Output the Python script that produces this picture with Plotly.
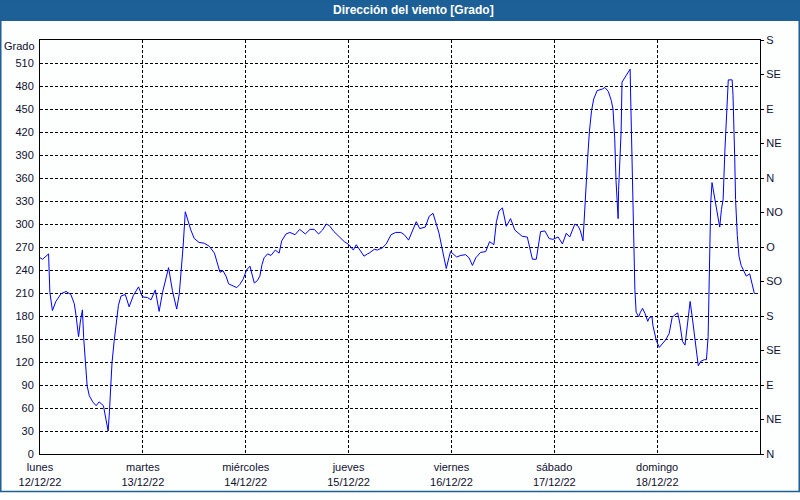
import pandas as pd
import plotly.graph_objects as go

# ---- data ----
start = "2022-12-12 00:00"
hours = [
    0, 0.6, 2.0, 2.3, 2.9, 3.7, 4.9, 6.1, 7.2, 8.0,
    8.4, 9.0, 9.4, 9.9, 10.2, 10.6, 11.0, 11.5, 12.3, 13.1,
    13.8, 14.8, 15.2, 15.9, 16.2, 16.8, 17.3, 17.9, 18.3, 18.9,
    19.9, 20.8, 21.8, 23.0, 23.9, 25.1, 25.9, 26.9, 27.8, 28.6,
    30.0, 30.9, 31.9, 32.5, 33.1, 33.4, 33.9, 34.4, 35.2, 36.0,
    37.1, 38.3, 39.5, 40.7, 41.4, 42.0, 42.7, 43.4, 44.0, 44.9,
    45.9, 46.6, 47.4, 48.2, 49.0, 49.4, 50.0, 50.7, 51.3, 51.8,
    52.3, 53.1, 53.9, 54.9, 55.8, 56.4, 57.4, 58.3, 59.5, 60.6,
    61.9, 63.0, 64.0, 65.0, 65.9, 66.8, 67.5, 68.6, 69.8, 71.0,
    72.1, 73.1, 73.8, 74.6, 75.6, 76.4, 76.8, 78.0, 78.7, 79.9,
    80.8, 81.9, 83.0, 84.2, 85.0, 86.0, 86.9, 87.8, 88.6, 89.9,
    90.8, 91.7, 92.3, 93.1, 93.9, 94.8, 95.4, 95.8, 96.6, 97.2,
    98.2, 99.3, 100.1, 100.9, 101.7, 102.8, 104.0, 104.9, 105.9, 106.5,
    107.1, 107.9, 108.8, 109.8, 110.8, 111.8, 112.5, 113.7, 114.5, 114.9,
    115.8, 116.8, 117.8, 118.8, 119.7, 120.9, 121.9, 122.8, 123.6, 124.8,
    125.6, 126.1, 126.7, 127.1, 127.4, 127.8, 128.2, 128.7, 129.2, 130.0,
    131.2, 131.8, 132.6, 133.3, 133.7, 134.1, 134.4, 134.6, 134.9, 135.0,
    135.3, 135.6, 135.8, 136.6, 137.2, 137.7, 137.8, 138.3, 138.5, 138.8,
    139.1, 139.7, 140.1, 140.6, 141.2, 141.8, 142.2, 142.8, 143.0, 143.4,
    143.8, 144.5, 145.2, 146.0, 146.8, 147.5, 148.0, 148.8, 149.3, 149.9,
    150.5, 150.9, 151.3, 151.7, 152.2, 152.7, 153.1, 153.6, 154.2, 155.0,
    155.5, 155.9, 156.3, 156.5, 156.8, 157.2, 157.7, 158.2, 158.6, 159.0,
    159.4, 159.8, 160.2, 160.6, 161.5, 161.7, 162.1, 162.3, 162.7, 163.1,
    163.6, 164.3, 164.8, 165.6, 166.1, 166.7,
]
direction_deg = [
    256, 254, 261, 211, 187, 199, 209, 212, 208, 196,
    181, 153, 172, 188, 151, 125, 89, 76, 68, 63,
    68, 63, 50, 30, 55, 119, 147, 177, 194, 206,
    208, 192, 207, 218, 205, 204, 201, 214, 186, 211,
    243, 213, 189, 209, 245, 271, 316, 307, 292, 281,
    276, 275, 271, 262, 249, 237, 239, 232, 222, 220,
    217, 221, 228, 240, 245, 236, 223, 226, 232, 247,
    256, 261, 259, 266, 262, 278, 287, 289, 286, 293,
    287, 293, 293, 287, 292, 300, 298, 290, 284, 277,
    273, 266, 273, 266, 258, 261, 262, 267, 266, 269,
    274, 286, 289, 289, 286, 279, 292, 303, 294, 296,
    310, 314, 303, 288, 266, 242, 256, 264, 260, 257,
    259, 260, 256, 246, 256, 263, 264, 277, 273, 303,
    317, 321, 297, 307, 292, 288, 284, 283, 266, 254,
    254, 290, 291, 281, 280, 283, 274, 288, 283, 300,
    297, 291, 278, 317, 360, 387, 421, 448, 463, 474,
    476, 478, 473, 461, 450, 412, 357, 327, 307, 344,
    378, 421, 485, 493, 498, 502, 472, 344, 283, 215,
    185, 179, 185, 190, 183, 173, 178, 179, 168, 157,
    148, 139, 144, 149, 157, 178, 181, 184, 170, 147,
    142, 161, 187, 199, 178, 153, 136, 115, 121, 123,
    123, 153, 270, 327, 354, 340, 325, 306, 296, 319,
    332, 395, 446, 488, 488, 468, 387, 332, 285, 258,
    246, 238, 232, 235, 223, 209,
]
day_dates = ["2022-12-12", "2022-12-13", "2022-12-14", "2022-12-15",
             "2022-12-16", "2022-12-17", "2022-12-18"]
day_names = ["lunes", "martes", "miércoles", "jueves", "viernes", "sábado", "domingo"]
day_labels = ["12/12/22", "13/12/22", "14/12/22", "15/12/22", "16/12/22", "17/12/22", "18/12/22"]
left_ticks = list(range(0, 511, 30))
compass_ticks = list(range(0, 541, 45))
compass_labels = ["N", "NE", "E", "SE", "S", "SO", "O", "NO", "N", "NE", "E", "SE", "S"]

times = pd.Timestamp(start) + pd.to_timedelta(hours, unit="h")

W, H = 800, 500
L, R, T, B = 40, 760, 40, 461
FONT = "Liberation Sans"
BLUE_BAR = "#1d5f97"
TXT = "#101030"
BG = "#fdfefe"
GRID_DASH = "3px,2px"


def px(xp):
    return (xp - L) / (R - L)


def py(yp):
    return (B - yp) / (B - T)


fig = go.Figure()
fig.add_trace(go.Scatter(x=times, y=direction_deg, mode="lines",
                         line=dict(color="#0000ff", width=1),
                         hoverinfo="x+y", showlegend=False))
fig.add_trace(go.Scatter(x=[times[0]], y=[direction_deg[0]], yaxis="y2", mode="markers",
                         marker=dict(opacity=0), hoverinfo="skip", showlegend=False))

fig.update_layout(
    width=W, height=H,
    margin=dict(l=L, r=W - R, t=T, b=H - B, pad=0),
    paper_bgcolor=BG, plot_bgcolor=BG,
    font=dict(family=FONT, size=11, color=TXT),
    showlegend=False,
    xaxis=dict(
        type="date", range=["2022-12-12 00:00", "2022-12-19 00:00"],
        tickvals=day_dates,
        ticktext=[f"{n}<br>{d}" for n, d in zip(day_names, day_labels)],
        showgrid=True, gridcolor="#000000", gridwidth=1, griddash=GRID_DASH,
        showline=True, linecolor="#000000", linewidth=1, mirror=True,
        zeroline=False, ticks="outside", ticklen=3, tickcolor=BG,
        tickfont=dict(size=11, family=FONT, color=TXT),
    ),
    yaxis=dict(
        range=[0, 540], tickvals=left_ticks, ticktext=[str(v) for v in left_ticks],
        showgrid=True, gridcolor="#000000", gridwidth=1, griddash=GRID_DASH,
        showline=True, linecolor="#000000", linewidth=1,
        zeroline=False, ticks="outside", ticklen=3, tickcolor=BG,
        tickfont=dict(size=11, family=FONT, color=TXT),
    ),
    yaxis2=dict(
        range=[0, 540], overlaying="y", side="right", anchor="x",
        tickvals=compass_ticks, ticktext=compass_labels,
        showgrid=False, showline=True, linecolor="#000000", linewidth=1,
        zeroline=False, ticks="outside", ticklen=3, tickcolor="#000000",
        tickfont=dict(size=11, family=FONT, color=TXT),
    ),
    shapes=[
        dict(type="rect", xref="paper", yref="paper",
             x0=px(-2), x1=px(802), y0=py(20.7), y1=py(-2),
             fillcolor=BLUE_BAR, line=dict(width=0), layer="below"),
        dict(type="rect", xref="paper", yref="paper",
             x0=px(0.75), x1=px(799.25), y0=py(499.25), y1=py(0.75),
             fillcolor="rgba(0,0,0,0)", line=dict(color=BLUE_BAR, width=1.5)),
    ],
    annotations=[
        dict(text="<b>Dirección del viento [Grado]</b>", xref="paper", yref="paper",
             x=px(413), y=py(10), xanchor="center", yanchor="middle", showarrow=False,
             font=dict(family=FONT, size=12, color="white")),
        dict(text="Grado", xref="paper", yref="paper",
             x=px(37), y=py(46), xanchor="right", yanchor="middle", showarrow=False,
             font=dict(family=FONT, size=11, color=TXT)),
    ],
)

fig.write_html(
    "out.html",
    config={"displayModeBar": False},
    post_script=(
        "document.documentElement.style.margin='0';"
        "document.documentElement.style.padding='0';"
        "document.documentElement.style.overflow='hidden';"
        "document.body.style.margin='0';"
        "document.body.style.padding='0';"
        "document.body.style.overflow='hidden';"
    ),
)
